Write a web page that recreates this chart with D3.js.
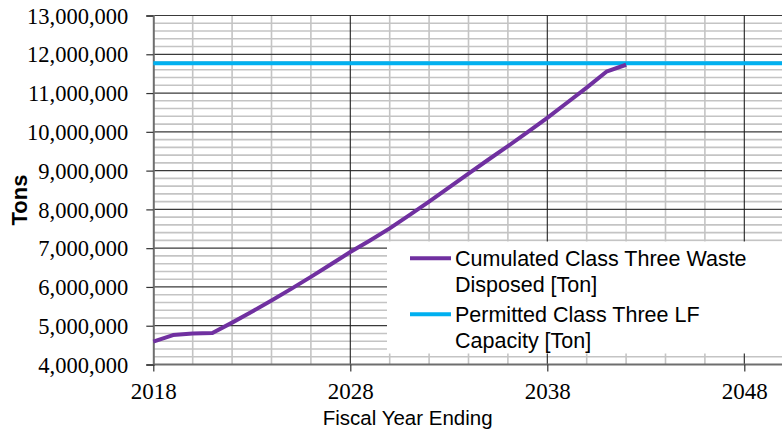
<!DOCTYPE html>
<html><head><meta charset="utf-8">
<script src="https://cdn.jsdelivr.net/npm/d3@7"></script>
<style>body{margin:0;background:#fff} svg{display:block}
.serif text{font-family:"Liberation Serif","DejaVu Serif","Noto Serif",serif}
</style>
</head><body><svg id="c" width="782" height="434"></svg>
<script>
// ---- data ----
const years = [2018,2019,2020,2021,2022,2023,2024,2025,2026,2027,2028,2029,2030,2031,2032,2033,2034,2035,2036,2037,2038,2039,2040,2041,2042];
const cumulatedWaste = [4590000,4760000,4800000,4810000,5080000,5360000,5650000,5950000,6260000,6580000,6900000,7200000,7510000,7850000,8200000,8560000,8920000,9280000,9630000,9990000,10360000,10750000,11140000,11550000,11730000];
const capacityYears = [2018, 2050];
const capacityValues = [11770000, 11770000];
const yTickValues = [4000000,5000000,6000000,7000000,8000000,9000000,10000000,11000000,12000000,13000000];
const xTickValues = [2018, 2028, 2038, 2048];
const legendLabels = [["Cumulated Class Three Waste","Disposed [Ton]"],["Permitted Class Three LF","Capacity [Ton]"]];
const xTitle = "Fiscal Year Ending";
const yTitle = "Tons";

// ---- layout ----
const svg = d3.select("#c");
const x = d3.scaleLinear().domain([2018, 2050]).range([153.3, 783.7]);
const y = d3.scaleLinear().domain([4000000, 13000000]).range([364.5, 15.5]);
const colors = ["#7030A0", "#00B0F0"];

const grid = svg.append("g");
const yMinor = d3.range(4000000, 13000001, 200000).filter(v => v % 1000000 !== 0);
grid.selectAll("line.hm").data(yMinor).join("line")
  .attr("x1", x(2018)).attr("x2", 782).attr("y1", d => y(d)).attr("y2", d => y(d))
  .attr("stroke", "#c4c4c4").attr("stroke-width", 1.6);
const xMinor = d3.range(2020, 2051, 2).filter(v => (v - 2018) % 10 !== 0);
grid.selectAll("line.vm").data(xMinor).join("line")
  .attr("x1", d => x(d)).attr("x2", d => x(d)).attr("y1", y(13000000)).attr("y2", y(4000000))
  .attr("stroke", "#c4c4c4").attr("stroke-width", 1.6);
grid.selectAll("line.hM").data(yTickValues.filter(v => v > 4000000)).join("line")
  .attr("x1", x(2018)).attr("x2", 782).attr("y1", d => y(d)).attr("y2", d => y(d))
  .attr("stroke", "#3a3a3a").attr("stroke-width", 1.2);
grid.selectAll("line.vM").data(xTickValues.filter(v => v > 2018)).join("line")
  .attr("x1", d => x(d)).attr("x2", d => x(d)).attr("y1", y(13000000)).attr("y2", y(4000000))
  .attr("stroke", "#222").attr("stroke-width", 1.1);

// axes
const yAxis = svg.append("g").attr("class", "serif").attr("transform", `translate(${x(2018)},0)`)
  .call(d3.axisLeft(y).tickValues(yTickValues).tickFormat(d3.format(",")).tickSize(7).tickPadding(18));
yAxis.attr("font-family", null).attr("font-size", null);
yAxis.select(".domain").attr("stroke", "#6e6e6e").attr("stroke-width", 2);
yAxis.selectAll(".tick line").attr("stroke", "#333").attr("stroke-width", 1.2);
yAxis.selectAll(".tick text").style("font-size", "22.5px").attr("fill", "#000").attr("dy", "0.34em");

const xAxis = svg.append("g").attr("class", "serif").attr("transform", `translate(0,${y(4000000)})`)
  .call(d3.axisBottom(x).tickValues(xTickValues).tickFormat(d3.format("d")).tickSize(7).tickPadding(11));
xAxis.attr("font-family", null).attr("font-size", null);
xAxis.select(".domain").attr("stroke", "#6e6e6e").attr("stroke-width", 2).attr("d", `M${x(2018)},0H782`);
xAxis.selectAll(".tick line").attr("stroke", "#333").attr("stroke-width", 1.2);
xAxis.selectAll(".tick text").style("font-size", "23px").attr("fill", "#000");

// series
const line = d3.line().x(d => x(d[0])).y(d => y(d[1]));
svg.append("path").datum(d3.zip(capacityYears, capacityValues)).attr("d", line)
  .attr("fill", "none").attr("stroke", colors[1]).attr("stroke-width", 4);
svg.append("path").datum(d3.zip(years, cumulatedWaste)).attr("d", line)
  .attr("fill", "none").attr("stroke", colors[0]).attr("stroke-width", 4).attr("stroke-linejoin", "round");

// legend
const lg = svg.append("g");
lg.append("rect").attr("x", 387).attr("y", 241.5).attr("width", 400).attr("height", 112).attr("fill", "#fff");
const itemY = [258.3, 314.3];
legendLabels.forEach((lines, i) => {
  lg.append("line").attr("x1", 410).attr("x2", 451).attr("y1", itemY[i]).attr("y2", itemY[i])
    .attr("stroke", colors[i]).attr("stroke-width", 4);
  const t = lg.append("text").style("font-family", "'Liberation Sans', Arial, sans-serif")
    .style("font-size", "21.5px").attr("fill", "#000");
  lines.forEach((s, j) => t.append("tspan").attr("x", 455).attr("y", itemY[i] + 7.5 + j * 25.7).text(s));
});

// titles
svg.append("text").attr("x", 407.7).attr("y", 424.5).attr("text-anchor", "middle")
  .style("font-family", "'Liberation Sans', Arial, sans-serif").style("font-size", "20.5px").text(xTitle);
svg.append("text").attr("transform", "translate(27,200) rotate(-90)").attr("text-anchor", "middle")
  .style("font-family", "'Liberation Sans', Arial, sans-serif").style("font-weight", "bold")
  .style("font-size", "22px").text(yTitle);
</script></body></html>
